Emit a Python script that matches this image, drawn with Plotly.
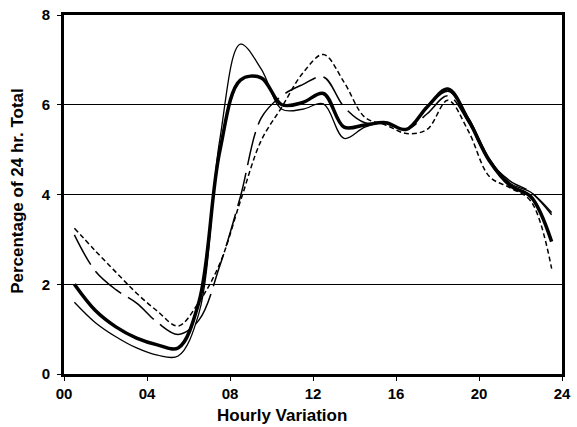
import plotly.graph_objects as go

hours = [0.5, 1.5, 2.5, 3.5, 4.5, 5.5, 6.5, 7.5, 8.5, 9.5, 10.5, 11.5,
         12.5, 13.5, 14.5, 15.5, 16.5, 17.5, 18.5, 19.5, 20.5, 21.5, 22.5, 23.5]

series_thick = [2.0, 1.42, 1.05, 0.8, 0.65, 0.58, 1.6, 4.95, 6.55, 6.6, 6.0, 6.05,
                6.25, 5.5, 5.55, 5.6, 5.45, 5.95, 6.35, 5.65, 4.75, 4.2, 3.95, 2.95]
series_thin = [1.6, 1.15, 0.83, 0.58, 0.42, 0.4, 1.35, 5.2, 7.35, 6.8, 5.9, 5.9,
               6.02, 5.25, 5.5, 5.6, 5.45, 5.95, 6.3, 5.7, 4.8, 4.25, 4.05, 3.6]
series_longdash = [3.1, 2.3, 1.88, 1.58, 1.15, 0.88, 1.2, 2.4, 3.95, 5.7, 6.2, 6.45,
                   6.62, 5.95, 5.6, 5.6, 5.45, 5.8, 6.2, 5.6, 4.75, 4.3, 4.05, 3.55]
series_shortdash = [3.25, 2.75, 2.27, 1.8, 1.4, 1.07, 1.6, 2.45, 3.85, 5.2, 5.95, 6.7,
                    7.12, 6.5, 5.72, 5.55, 5.36, 5.45, 6.1, 5.4, 4.4, 4.15, 3.85, 2.35]

x_tickvals = [0, 4, 8, 12, 16, 20, 24]
x_ticktext = ["00", "04", "08", "12", "16", "20", "24"]
y_tickvals = [0, 2, 4, 6, 8]

fig = go.Figure()
fig.add_trace(go.Scatter(x=hours, y=series_shortdash, mode="lines",
                         line=dict(color="black", width=1.5, dash="5px,3px", shape="spline", smoothing=1)))
fig.add_trace(go.Scatter(x=hours, y=series_longdash, mode="lines",
                         line=dict(color="black", width=1.5, dash="34px,8px", shape="spline", smoothing=1)))
fig.add_trace(go.Scatter(x=hours, y=series_thin, mode="lines",
                         line=dict(color="black", width=1.3, shape="spline", smoothing=1)))
fig.add_trace(go.Scatter(x=hours, y=series_thick, mode="lines",
                         line=dict(color="black", width=3.5, shape="spline", smoothing=1)))

font_fam = "Liberation Sans, Arial, sans-serif"
fig.update_layout(
    width=577, height=427,
    margin=dict(l=64, r=6, t=15, b=53),
    paper_bgcolor="white", plot_bgcolor="white",
    showlegend=False,
    font=dict(family=font_fam, color="black"),
    xaxis=dict(range=[0, 24], tickvals=x_tickvals, ticktext=x_ticktext,
               showgrid=False, zeroline=False, showline=True, mirror=True,
               linecolor="black", linewidth=3, ticks="outside", ticklen=4,
               tickwidth=1, tickcolor="black",
               tickfont=dict(family=font_fam, size=15, color="black", weight="bold")),
    yaxis=dict(range=[0, 8], tickvals=y_tickvals,
               showgrid=True, gridcolor="black", gridwidth=1, zeroline=False,
               showline=True, mirror=True, linecolor="black", linewidth=3,
               ticks="outside", ticklen=4, tickwidth=1, tickcolor="black",
               ticklabelstandoff=4,
               tickfont=dict(family=font_fam, size=15, color="black", weight="bold")),
    annotations=[
        dict(text="<b>Hourly Variation</b>", xref="paper", yref="paper",
             x=(286 - 64) / 507, y=(374 - 415) / 359, xanchor="center", yanchor="middle",
             showarrow=False, font=dict(family=font_fam, size=17, color="black")),
        dict(text="<b>Percentage of 24 hr. Total</b>", xref="paper", yref="paper",
             x=(16 - 64) / 507, y=(374 - 191) / 359, xanchor="center", yanchor="middle",
             textangle=-90, showarrow=False,
             font=dict(family=font_fam, size=17, color="black")),
    ],
)

fig.write_html("out.html",
               config={"displayModeBar": False},
               post_script="document.body.style.margin='0';document.body.style.overflow='hidden';")
